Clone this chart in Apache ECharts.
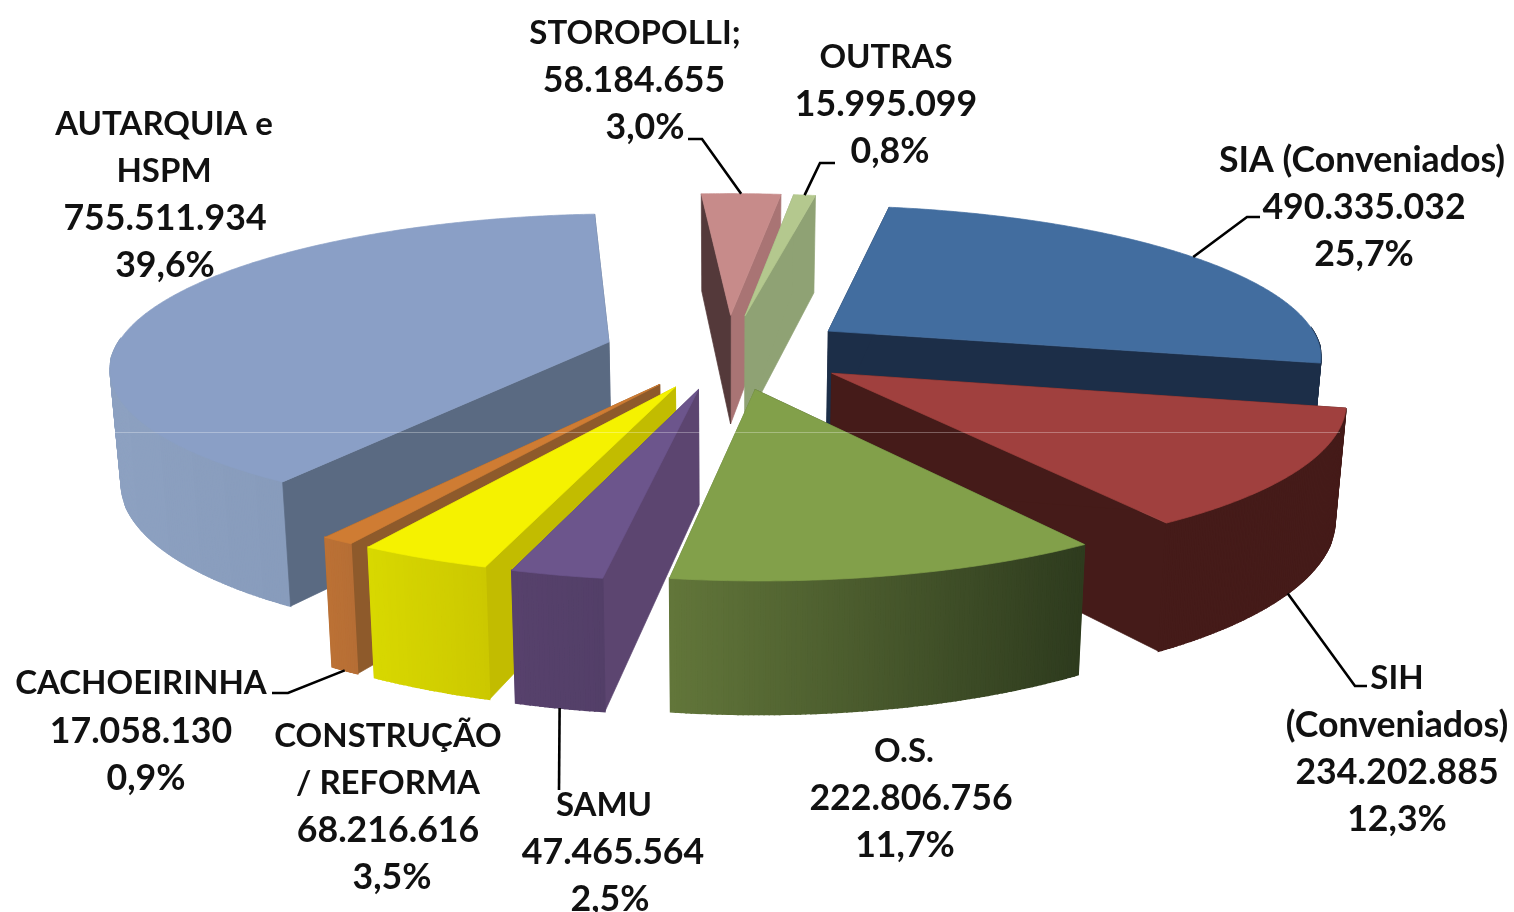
<!DOCTYPE html>
<html>
<head>
<meta charset="utf-8">
<style>html,body{margin:0;padding:0;background:#fff}#c{width:1514px;height:912px}</style>
<script src="https://cdn.jsdelivr.net/npm/echarts@6/dist/echarts.min.js"></script>
</head>
<body>
<div id="c"></div>
<script>
// ---- data ----
const categories = ['SIA (Conveniados)','SIH\n(Conveniados)','O.S.','SAMU','CONSTRUÇÃO\n/ REFORMA','CACHOEIRINHA','AUTARQUIA e\nHSPM','STOROPOLLI;','OUTRAS'];
const sliceValues = [490335032,234202885,222806756,47465564,68216616,17058130,755511934,58184655,15995099];
const valueLabels = ['490.335.032','234.202.885','222.806.756','47.465.564','68.216.616','17.058.130','755.511.934','58.184.655','15.995.099'];
const percentLabels = ['25,7%','12,3%','11,7%','2,5%','3,5%','0,9%','39,6%','3,0%','0,8%'];

// ---- styles: top, start face, end face, outer wall (left, right) ----
const sliceColors = [
  ['#426D9F','#1C2E48','#1C2E48','#1C2E48','#1C2E48'],
  ['#A0403E','#451B19','#451B19','#451B19','#451B19'],
  ['#82A04A','#3F4E25','#5F7536','#62763A','#2E3B1E'],
  ['#6C558C','#5C4570','#5C4570','#57416C','#533F68'],
  ['#F5F200','#C2BC00','#C2BC00','#D8D800','#CCC800'],
  ['#CF7C33','#8E5A2B','#8E5A2B','#BB7135','#B66E35'],
  ['#8A9FC6','#5A6A82','#5A6A82','#8DA1C1','#7E92B2'],
  ['#C78B8A','#54393A','#A97474','#A97474','#A97474'],
  ['#B4C88E','#8FA274','#8FA274','#8FA274','#8FA274']
];
// label anchors: y of first line, line step, x centre of each line
const labelAnchors = [
  [160.5,47,[1362,1364,1364]],
  [678.5,47,[1397,1397,1397,1397]],
  [751.5,47,[904,911,905]],
  [805.5,47,[604,613,610]],
  [736.5,47,[388,388,388,392]],
  [683.5,47.5,[141,141,146]],
  [124.5,47,[164,164,165,165]],
  [33.5,47,[635,634,645]],
  [57.5,47,[886,886,890]]
];
// leader line elbows after the rim point; null = no leader. onBottom: leave from the wall's lower rim
const leaders = [
  {pts:[[1247,217],[1260,217]],onBottom:false},
  {pts:[[1355,686],[1367,686]],onBottom:true},
  null,
  {pts:[[559,790]],onBottom:true},
  null,
  {pts:[[288,693],[272,693]],onBottom:true},
  null,
  {pts:[[702,139],[688,139]],onBottom:false},
  {pts:[[820,163],[835,163]],onBottom:false}
];
const view = {cx:727.5, cy:351.5, A:495, B:150, p:0.15, depth:112, shrink:0.018, firstAngle:10, explode:0.25};
const fontFor = t => (/[0-9(]/.test(t) ? 'bold 35.7px Lato' : 'bold 33px Lato');

const total = sliceValues.reduce((a,b)=>a+b,0);
const rad = d=>d*Math.PI/180;
const spans = [];
{let a=view.firstAngle; sliceValues.forEach(v=>{const s=v/total*360; spans.push([a,a+s]); a+=s;});}

function project(X,Y,z){
  const f = 1/(1-view.p*Y);
  const g = z ? (1-view.shrink) : 1;
  return [view.cx + view.A*X*f*g, view.cy + view.B*Y*f*g + (z?view.depth*f:0)];
}
function polarPt(i,ang,r,z){
  const mid=(spans[i][0]+spans[i][1])/2;
  const X=view.explode*Math.sin(rad(mid))+r*Math.sin(rad(ang));
  const Y=-view.explode*Math.cos(rad(mid))-r*Math.cos(rad(ang));
  return project(X,Y,z);
}
function poly(points,fill,z2,lw){
  return {type:'polygon',shape:{points},z2,style:{fill,stroke:fill,lineWidth:lw||0.7}};
}
function lerpColor(a,b,t){
  const p=h=>[1,3,5].map(k=>parseInt(h.substr(k,2),16));
  const A=p(a),B=p(b);
  return 'rgb('+A.map((v,k)=>Math.round(v+(B[k]-v)*t)).join(',')+')';
}
function renderItem(params,api){
  const i=params.dataIndex;
  api.value(0);
  const [a0,a1]=spans[i], mid=(a0+a1)/2, col=sliceColors[i];
  const base=Math.round(500*(-Math.cos(rad(mid))+1))*10;
  const steps=Math.max(6,Math.ceil((a1-a0)/0.5));
  const topRim=[],botRim=[],rimAngles=[];
  for(let k=0;k<=steps;k++){
    const a=a0+(a1-a0)*k/steps;
    rimAngles.push(a);
    topRim.push(polarPt(i,a,1,0)); botRim.push(polarPt(i,a,1,1));
  }
  const apexT=polarPt(i,mid,0,0), apexB=polarPt(i,mid,0,1);
  const start=[apexT,topRim[0],botRim[0],apexB];
  const end=[apexT,topRim[steps],botRim[steps],apexB];
  const front=-Math.cos(rad(mid))>0;
  const xs=topRim.map(p=>p[0]), xMin=Math.min(...xs), xMax=Math.max(...xs);
  const outer=[];
  for(let k=0;k<steps;k++){
    // the back half of the rim's wall faces away from the viewer
    if(-Math.cos(rad((rimAngles[k]+rimAngles[k+1])/2))<-0.02) continue;
    const t=((topRim[k][0]+topRim[k+1][0])/2-xMin)/(xMax-xMin||1);
    outer.push(poly([topRim[k],topRim[k+1],botRim[k+1],botRim[k]],lerpColor(col[3],col[4],t),base+(front?3:1),1.6));
  }
  const faces=[poly(end,col[2],base+(front?1:2)),poly(start,col[1],base+(front?2:3))];
  const top=poly([apexT].concat(topRim),col[0],base+5);
  const children=outer.concat(faces,[top]);

  // leader line
  const L=leaders[i];
  if(L){
    const s=polarPt(i,mid,1,L.onBottom?1:0);
    children.push({type:'polyline',z2:20000,shape:{points:[s].concat(L.pts)},style:{stroke:'#000',lineWidth:2.6,fill:null}});
  }
  // labels
  const [ly,step,lxs]=labelAnchors[i];
  const lines=categories[i].split('\n').concat([valueLabels[i],percentLabels[i]]);
  lines.forEach((t,n)=>{
    children.push({type:'text',z2:20001,x:lxs[n],y:ly+n*step,
      style:{text:t,font:fontFor(t),fill:'#111',align:'center',verticalAlign:'middle'}});
  });
  return {type:'group',children};
}
const chart=echarts.init(document.getElementById('c'),null,{renderer:'canvas'});
chart.setOption({
  animation:false,
  backgroundColor:'#fff',
  series:[{type:'custom',coordinateSystem:'none',renderItem,clip:false,
    data:sliceValues.map((v,i)=>({name:categories[i],value:[v]}))}],
  graphic:[{type:'line',z:100,shape:{x1:112,y1:432.5,x2:1340,y2:432.5},style:{stroke:'rgba(255,255,255,0.3)',lineWidth:1}}]
});
</script>
</body>
</html>
